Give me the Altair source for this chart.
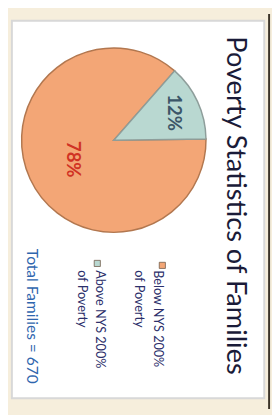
import math
import altair as alt
import pandas as pd

# ---- data ----
categories = ["Below NYS 200% of Poverty", "Above NYS 200% of Poverty"]
values = [78, 12]
labels = ["78%", "12%"]
title_text = "Poverty Statistics of Families"
note_text = "Total Families = 670"

slice_colors = ["#F3A676", "#B9D8D1"]
slice_strokes = ["#B2774F", "#8E9E9B"]

df = pd.DataFrame({"category": categories, "value": values, "label": labels})
one = pd.DataFrame({"k": [0]})

W, H = 272, 407
CX, CY, R = 109, 130, 95
start = math.radians(41.3)

theta_scale = alt.Scale(range=[start, start + 2 * math.pi])
color_enc = alt.Color("category:N", scale=alt.Scale(domain=categories, range=slice_colors), legend=None)
stroke_enc = alt.Stroke("category:N", scale=alt.Scale(domain=categories, range=slice_strokes), legend=None)
order_enc = alt.Order("category:N", sort="ascending")
theta_enc = alt.Theta("value:Q", stack=True, scale=theta_scale)

base = alt.Chart(df)

# decoration: right dark frame line and white inner panel
frame_line = alt.Chart(one).mark_rect(color="#3B3328").encode(
    x=alt.value(268), x2=alt.value(270), y=alt.value(0), y2=alt.value(H)
)
panel = alt.Chart(one).mark_rect(fill="white", stroke="#D8D8D8", strokeWidth=2).encode(
    x=alt.value(4), x2=alt.value(264), y=alt.value(7), y2=alt.value(396)
)

pie = base.mark_arc(outerRadius=R, strokeWidth=1.5).encode(
    theta=theta_enc, color=color_enc, stroke=stroke_enc, order=order_enc,
    x=alt.value(CX), y=alt.value(CY)
)

lab_above = base.mark_text(
    radius=68, angle=90, font="Lato", fontWeight="bold", fontSize=19, color="#3C5668"
).encode(
    theta=theta_enc, order=order_enc, detail="category:N",
    text=alt.condition(alt.datum.category == categories[1], alt.Text("label:N"), alt.value("")),
    x=alt.value(CX), y=alt.value(CY)
)
lab_below = base.mark_text(
    radius=47, angle=90, font="Lato", fontWeight="bold", fontSize=19, color="#D03224"
).encode(
    theta=theta_enc, order=order_enc, detail="category:N",
    text=alt.condition(alt.datum.category == categories[0], alt.Text("label:N"), alt.value("")),
    x=alt.value(CX), y=alt.value(CY)
)

title = alt.Chart(one).mark_text(
    text=title_text, angle=90, align="left", baseline="middle",
    font="Lato", fontSize=28, color="#1A1B38"
).encode(x=alt.value(234), y=alt.value(23))

def legend_item(i, mx, my, tx, ty):
    sub = base.transform_filter(alt.datum.category == categories[i])
    marker = sub.mark_square(size=40, stroke="#6E5A48", strokeWidth=0.8, opacity=1).encode(
        color=color_enc, x=alt.value(mx), y=alt.value(my)
    )
    text = sub.transform_calculate(
        lines="replace(datum.category, '% of', '%\\nof')"
    ).mark_text(
        angle=90, align="left", baseline="middle", lineBreak="\n", lineHeight=19,
        font="Lato", fontSize=13, color="#2C2F6B"
    ).encode(text="lines:N", x=alt.value(tx), y=alt.value(ty))
    return marker + text

leg1 = legend_item(0, 159, 259, 154, 264)
leg2 = legend_item(1, 92, 257, 95, 264)

note = alt.Chart(one).mark_text(
    text=note_text, angle=90, align="left", baseline="middle",
    font="Lato", fontSize=16, color="#2F66AE"
).encode(x=alt.value(25), y=alt.value(242))

chart = alt.layer(
    frame_line, panel, pie, lab_above, lab_below, title, leg1, leg2, note
).properties(
    width=W, height=H, padding=0, autosize=alt.AutoSizeParams(type="none"),
    background="#F6EEDC"
).configure_view(stroke=None)

chart.save("out.html", embed_options={"renderer": "svg", "actions": False})
